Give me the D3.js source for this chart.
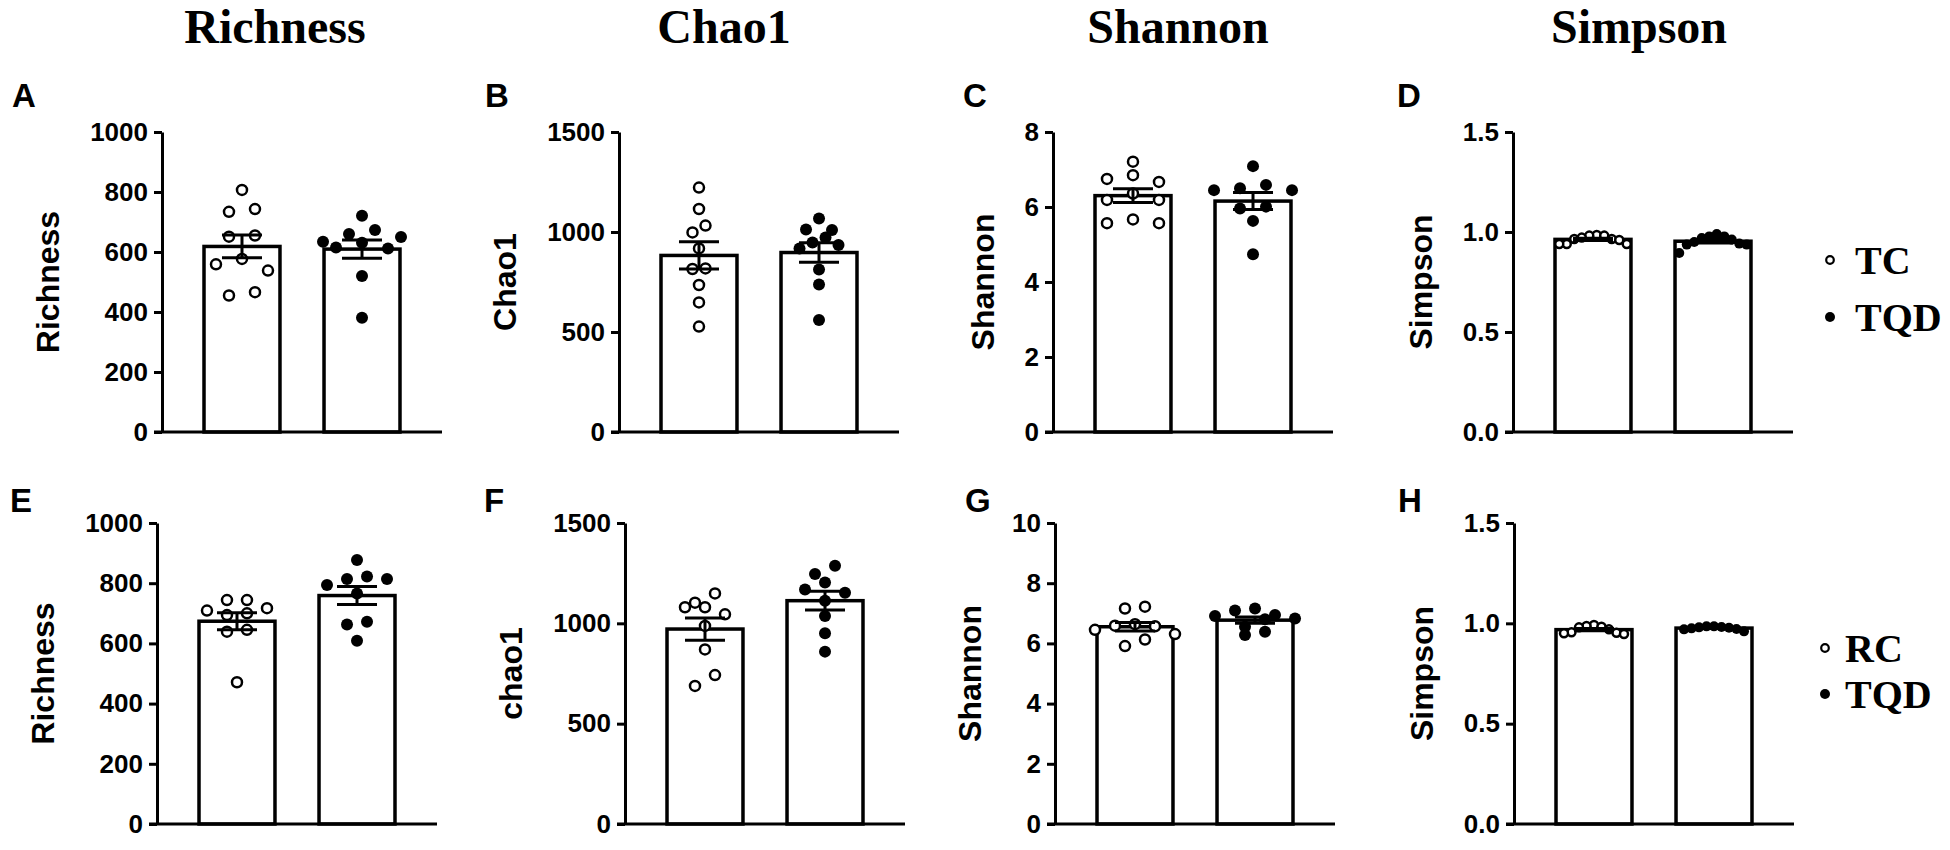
<!DOCTYPE html>
<html>
<head>
<meta charset="utf-8">
<script src="https://cdn.jsdelivr.net/npm/d3@7"></script>
<style>
  body { margin: 0; background: #fff; }
  svg { display: block; }
  .tick text { font-family: "Liberation Sans", Arial, sans-serif; font-weight: bold; font-size: 26px; fill: #000; }
</style>
</head>
<body>
<div id="chart"></div>
<script>
// column titles, panel letters, axis labels
const titles = ["Richness", "Chao1", "Shannon", "Simpson"];
const letters = [["A", "B", "C", "D"], ["E", "F", "G", "H"]];
const yLabels = [["Richness", "Chao1", "Shannon", "Simpson"], ["Richness", "chao1", "Shannon", "Simpson"]];
const groupsRow1 = ["TC", "TQD"];
const groupsRow2 = ["RC", "TQD"];

// tick values
const richnessTicks = [0, 200, 400, 600, 800, 1000];
const chao1Ticks = [0, 500, 1000, 1500];
const shannonTicks1 = [0, 2, 4, 6, 8];
const shannonTicks2 = [0, 2, 4, 6, 8, 10];
const simpsonTicks = [0, 0.5, 1.0, 1.5];

// row 1 : TC vs TQD
const richnessTC = [807, 743, 734, 655, 651, 577, 559, 538, 466, 455];
const richnessTQD = [721, 673, 660, 650, 634, 631, 615, 612, 520, 381];
const chao1TC = [1222, 1115, 1032, 998, 918, 818, 815, 735, 648, 527];
const chao1TQD = [1068, 1013, 1010, 972, 947, 935, 918, 813, 738, 560];
const shannonTC = [7.21, 6.85, 6.75, 6.67, 6.36, 6.19, 6.19, 5.67, 5.57, 5.57];
const shannonTQD = [7.09, 6.59, 6.50, 6.45, 6.45, 6.01, 5.96, 5.63, 4.74];
const simpsonTC = [0.985, 0.982, 0.982, 0.972, 0.965, 0.965, 0.960, 0.940, 0.940, 0.940];
const simpsonTQD = [0.990, 0.978, 0.978, 0.970, 0.962, 0.950, 0.942, 0.937, 0.937, 0.895];

// row 2 : RC vs TQD
const richnessRC = [744, 744, 717, 709, 700, 694, 645, 639, 471];
const richnessTQD2 = [877, 822, 814, 814, 794, 766, 672, 663, 609];
const chao1RC = [1149, 1103, 1080, 1080, 1045, 987, 870, 742, 688];
const chao1TQD2 = [1287, 1246, 1204, 1169, 1152, 1113, 1036, 950, 859];
const shannonRC = [7.22, 7.16, 6.64, 6.59, 6.57, 6.45, 6.31, 6.13, 5.91];
const shannonTQD2 = [7.16, 7.09, 6.94, 6.91, 6.83, 6.80, 6.55, 6.39, 6.28];
const simpsonRC = [0.992, 0.987, 0.983, 0.980, 0.970, 0.955, 0.953, 0.950, 0.947];
const simpsonTQD2 = [0.985, 0.985, 0.982, 0.980, 0.978, 0.975, 0.972, 0.970, 0.960];

const width = 1950, height = 850;
const sans = '"Liberation Sans", Arial, sans-serif';
const serif = '"Liberation Serif", "Times New Roman", serif';

const svg = d3.select("#chart").append("svg")
    .attr("width", width)
    .attr("height", height)
    .attr("viewBox", [0, 0, width, height]);

// layout of the grid
const rowTop = [132, 523], rowBottom = [432, 824];
const axisX = [[162, 619, 1053, 1513], [157, 625, 1055, 1514]];
const letterX = [[12, 485, 963, 1397], [10, 484, 965, 1398]];
const titleX = [275, 724, 1178, 1639];
const axisLen = 280;
// per-column point style: radius, horizontal slot, row grouping distance
const dotStyle = [
    [{ r: 5, slot: 26, gap: 12 }, { r: 5, slot: 13, gap: 12 }, { r: 5, slot: 26, gap: 12 }, { r: 4, slot: 7.5, gap: 30 }],
    [{ r: 5, slot: 20, gap: 12 }, { r: 5, slot: 20, gap: 12 }, { r: 5, slot: 20, gap: 10 }, { r: 4, slot: 7.5, gap: 30 }]
];

const panels = [
    [
        { ticks: richnessTicks, fmt: d3.format("d"), values: [richnessTC, richnessTQD] },
        { ticks: chao1Ticks, fmt: d3.format("d"), values: [chao1TC, chao1TQD] },
        { ticks: shannonTicks1, fmt: d3.format("d"), values: [shannonTC, shannonTQD] },
        { ticks: simpsonTicks, fmt: d3.format(".1f"), values: [simpsonTC, simpsonTQD] }
    ],
    [
        { ticks: richnessTicks, fmt: d3.format("d"), values: [richnessRC, richnessTQD2] },
        { ticks: chao1Ticks, fmt: d3.format("d"), values: [chao1RC, chao1TQD2] },
        { ticks: shannonTicks2, fmt: d3.format("d"), values: [shannonRC, shannonTQD2] },
        { ticks: simpsonTicks, fmt: d3.format(".1f"), values: [simpsonRC, simpsonTQD2] }
    ]
];

// spread the dots of one group in centred rows (like a prism scatter);
// inside a row the highest dot sits in the middle, the rest go out to both sides
function swarm(vals, y, style) {
    let pts = vals.map((v) => ({ v: v, py: y(v) })).sort((a, b) => a.py - b.py);
    let rows = [], cur = null;
    for (let p of pts) {
        if (!cur || p.py - cur[0].py > style.gap) { cur = [p]; rows.push(cur); }
        else cur.push(p);
    }
    rows.forEach((row) => {
        let slots = row.map((p, i) => (i - (row.length - 1) / 2) * style.slot);
        slots.sort((a, b) => Math.abs(a) - Math.abs(b) || b - a);
        let order = [...slots.filter((s, k) => k % 2 == 0), ...slots.filter((s, k) => k % 2 == 1)];
        row.forEach((p, i) => { p.dx = i % 2 == 0 ? slots[i] : -slots[i]; });
        // keep dx unique inside the row
        let used = new Set();
        row.forEach((p, i) => {
            if (used.has(p.dx)) p.dx = -p.dx;
            used.add(p.dx);
        });
    });
    return pts;
}

// column titles
svg.selectAll(".col-title")
    .data(titles)
    .join("text")
    .attr("class", "col-title")
    .attr("x", (d, i) => titleX[i])
    .attr("y", 43)
    .attr("text-anchor", "middle")
    .attr("font-family", serif)
    .attr("font-weight", "bold")
    .attr("font-size", 48)
    .text((d) => d);

panels.forEach((row, ri) => {
    row.forEach((p, ci) => {
        let x0 = axisX[ri][ci];
        let style = dotStyle[ri][ci];
        let groups = ri == 0 ? groupsRow1 : groupsRow2;

        let y = d3.scaleLinear()
            .domain([0, d3.max(p.ticks)])
            .range([rowBottom[ri], rowTop[ri]]);

        let x = d3.scaleBand()
            .domain(groups)
            .range([x0, x0 + axisLen])
            .paddingInner(0.367)
            .paddingOuter(0.35);

        let g = svg.append("g").attr("class", "panel");

        // bars (mean) with thick outline
        let stats = p.values.map((vals, gi) => {
            let m = d3.mean(vals);
            let sem = d3.deviation(vals) / Math.sqrt(vals.length);
            return { group: groups[gi], mean: m, sem: sem, vals: vals };
        });

        g.selectAll("rect")
            .data(stats)
            .join("rect")
            .attr("x", (d) => x(d.group))
            .attr("y", (d) => y(d.mean))
            .attr("width", x.bandwidth())
            .attr("height", (d) => y(0) - y(d.mean))
            .attr("fill", "#fff")
            .attr("stroke", "#000")
            .attr("stroke-width", 3.5);

        // x axis: plain baseline
        g.append("g")
            .attr("transform", `translate(0,${rowBottom[ri]})`)
            .call(d3.axisBottom(x).tickSize(0).tickSizeOuter(0).tickFormat(""))
            .call((a) => a.select(".domain").attr("stroke-width", 3).attr("d", `M${x0 - 8},0H${x0 + axisLen}`));

        // y axis
        let yAxis = g.append("g")
            .attr("transform", `translate(${x0},0)`)
            .call(d3.axisLeft(y).tickValues(p.ticks).tickFormat(p.fmt).tickSize(8).tickSizeOuter(0).tickPadding(6));
        yAxis.select(".domain").attr("stroke-width", 3);
        yAxis.selectAll(".tick line").attr("stroke-width", 3);
        yAxis.selectAll(".tick text").attr("font-family", null).attr("font-size", null);

        // dots
        stats.forEach((s, gi) => {
            let cx = x(s.group) + x.bandwidth() / 2;
            let pts = swarm(s.vals, y, style);
            g.append("g")
                .selectAll("circle")
                .data(pts)
                .join("circle")
                .attr("cx", (d) => cx + d.dx)
                .attr("cy", (d) => d.py)
                .attr("r", gi == 0 ? style.r : style.r + 1)
                .attr("fill", gi == 0 ? "#fff" : "#000")
                .attr("stroke", "#000")
                .attr("stroke-width", gi == 0 ? 2.5 : 0);
        });

        // error bars (SEM)
        let eb = g.selectAll(".err")
            .data(stats)
            .join("g")
            .attr("class", "err")
            .attr("stroke", "#000")
            .attr("stroke-width", 3);
        eb.append("line")
            .attr("x1", (d) => x(d.group) + x.bandwidth() / 2)
            .attr("x2", (d) => x(d.group) + x.bandwidth() / 2)
            .attr("y1", (d) => y(d.mean - d.sem))
            .attr("y2", (d) => y(d.mean + d.sem));
        eb.selectAll(".cap")
            .data((d) => [d.mean - d.sem, d.mean + d.sem].map((v) => ({ v: v, c: x(d.group) + x.bandwidth() / 2 })))
            .join("line")
            .attr("class", "cap")
            .attr("x1", (d) => d.c - 20)
            .attr("x2", (d) => d.c + 20)
            .attr("y1", (d) => y(d.v))
            .attr("y2", (d) => y(d.v));

        // y label, placed left of the tick labels
        let bb = yAxis.node().getBBox();
        g.append("text")
            .attr("transform", `translate(${x0 + bb.x - 31},${(rowTop[ri] + rowBottom[ri]) / 2}) rotate(-90)`)
            .attr("text-anchor", "middle")
            .attr("font-family", sans)
            .attr("font-weight", "bold")
            .attr("font-size", 32)
            .text(yLabels[ri][ci]);

        // panel letter
        g.append("text")
            .attr("x", letterX[ri][ci])
            .attr("y", ri == 0 ? 107 : 512)
            .attr("font-family", sans)
            .attr("font-weight", "bold")
            .attr("font-size", 33)
            .text(letters[ri][ci]);
    });
});

// legends (one per row)
const legendPos = [{ x: 1830, y: [260, 317], tx: 1855 }, { x: 1825, y: [648, 694], tx: 1845 }];
[groupsRow1, groupsRow2].forEach((groups, ri) => {
    let lp = legendPos[ri];
    let lg = svg.append("g").attr("class", "legend");
    lg.selectAll("circle")
        .data(groups)
        .join("circle")
        .attr("cx", lp.x)
        .attr("cy", (d, i) => lp.y[i])
        .attr("r", (d, i) => i == 0 ? 3.8 : 5)
        .attr("fill", (d, i) => i == 0 ? "#fff" : "#000")
        .attr("stroke", "#000")
        .attr("stroke-width", (d, i) => i == 0 ? 2.2 : 0);
    lg.selectAll("text")
        .data(groups)
        .join("text")
        .attr("x", lp.tx)
        .attr("y", (d, i) => lp.y[i] + 14)
        .attr("font-family", serif)
        .attr("font-weight", "bold")
        .attr("font-size", 40)
        .text((d) => d);
});
</script>
</body>
</html>
